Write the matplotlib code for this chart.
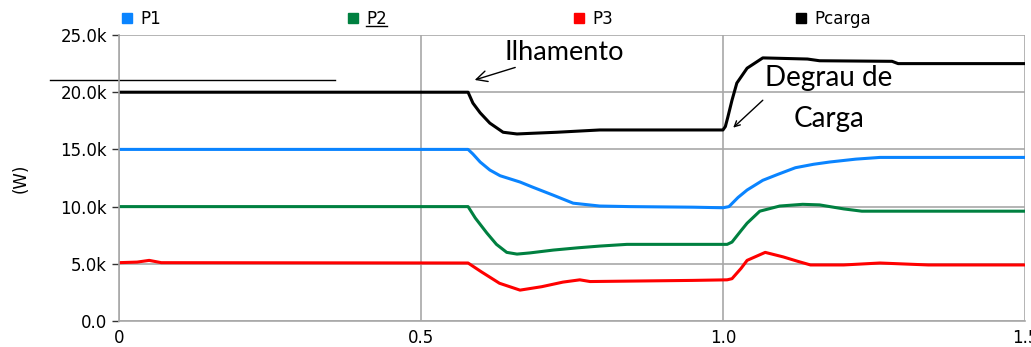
import matplotlib.pyplot as plt
from matplotlib.lines import Line2D

# time axis (s) and powers (kW)
t_p1 = [0.0, 0.578, 0.586, 0.598, 0.614, 0.631, 0.664, 0.685, 0.719, 0.752, 0.796, 0.846, 0.95, 1.0, 1.01,
        1.025, 1.04, 1.066, 1.09, 1.12, 1.15, 1.177, 1.22, 1.26, 1.5]
p1 = [15.0, 15.0, 14.6, 13.9, 13.2, 12.7, 12.15, 11.7, 11.0, 10.3, 10.05, 10.0, 9.95, 9.9, 10.0,
      10.8, 11.45, 12.3, 12.8, 13.4, 13.7, 13.9, 14.15, 14.3, 14.3]

t_p2 = [0.0, 0.578, 0.59, 0.609, 0.625, 0.642, 0.659, 0.68, 0.719, 0.76, 0.796, 0.841, 1.007, 1.015,
        1.03, 1.04, 1.061, 1.094, 1.132, 1.16, 1.177, 1.2, 1.23, 1.5]
p2 = [10.0, 10.0, 9.0, 7.7, 6.7, 6.0, 5.85, 5.95, 6.2, 6.4, 6.55, 6.7, 6.7, 6.9,
      7.9, 8.55, 9.6, 10.05, 10.2, 10.15, 10.0, 9.8, 9.6, 9.6]

t_p3 = [0.0, 0.03, 0.05, 0.07, 0.578, 0.6, 0.63, 0.664, 0.7, 0.735, 0.763, 0.78, 0.95, 1.007, 1.015,
        1.03, 1.04, 1.07, 1.1, 1.125, 1.145, 1.2, 1.26, 1.34, 1.5]
p3 = [5.1, 5.15, 5.3, 5.1, 5.07, 4.3, 3.3, 2.7, 3.0, 3.4, 3.6, 3.45, 3.55, 3.6, 3.7,
      4.6, 5.3, 6.0, 5.6, 5.2, 4.9, 4.9, 5.07, 4.9, 4.9]

t_pc = [0.0, 0.578, 0.586, 0.598, 0.614, 0.636, 0.659, 0.68, 0.725, 0.796, 1.0, 1.004, 1.008,
        1.015, 1.023, 1.04, 1.066, 1.14, 1.16, 1.28, 1.29, 1.5]
pc = [20.0, 20.0, 19.05, 18.2, 17.3, 16.5, 16.35, 16.4, 16.5, 16.7, 16.7, 17.0, 17.8,
      19.3, 20.8, 22.1, 23.0, 22.9, 22.75, 22.7, 22.5, 22.5]

names = ["P1", "P2", "P3", "Pcarga"]
colors = ["#0a84ff", "#008040", "#ff0000", "black"]
ts = [t_p1, t_p2, t_p3, t_pc]
ps = [p1, p2, p3, pc]

fig = plt.figure(figsize=(10.31, 3.47), dpi=100)
ax = fig.add_axes([0.1154, 0.0749, 0.8787, 0.8242])

for t, p, c in zip(ts, ps, colors):
    ax.plot(t, p, color=c, lw=2.2, solid_joinstyle="round")

ax.set_xlim(0, 1.5)
ax.set_ylim(0, 25)
ax.set_xticks([0, 0.5, 1.0, 1.5])
ax.set_xticklabels(["0", "0.5", "1.0", "1.5"], fontsize=12)
ax.set_yticks([0, 5, 10, 15, 20, 25])
ax.set_yticklabels(["0.0", "5.0k", "10.0k", "15.0k", "20.0k", "25.0k"], fontsize=12)
ax.tick_params(axis="x", length=0, pad=6)
ax.tick_params(axis="y", length=5, width=1, color="#333333")
ax.grid(True, color="#a8a8a8", lw=1.2)
for s in ["top", "right"]:
    ax.spines[s].set_visible(False)
for s in ["left", "bottom"]:
    ax.spines[s].set_color("#a8a8a8")
    ax.spines[s].set_linewidth(1.2)
ax.set_ylabel("(W)", fontsize=12, labelpad=22)

# stray line left of the legend
ax.plot([-0.114, 0.358], [21.07, 21.07], color="black", lw=1, clip_on=False)

# legend entries placed along the top (figure pixels)
leg_x = [127, 353, 579, 801]
for name, c, xp in zip(names, colors, leg_x):
    fig.add_artist(Line2D([xp / 1031], [1 - 18 / 347], marker="s", color=c, ms=7, ls="",
                          transform=fig.transFigure))
    txt = fig.text((xp + 13) / 1031, 1 - 19 / 347, name, fontsize=12, va="center", ha="left")
    if name == "P2":
        fig.canvas.draw()
        bb = txt.get_window_extent().transformed(fig.transFigure.inverted())
        fig.add_artist(Line2D([bb.x0, bb.x1], [bb.y0 + 0.006, bb.y0 + 0.006], color="black",
                              lw=1, transform=fig.transFigure))

ax.annotate("Ilhamento", xy=(0.589, 21.07), xytext=(0.639, 23.5), fontsize=19.5,
            family="Lato", va="center", ha="left",
            arrowprops=dict(arrowstyle="->", color="black", lw=1, shrinkA=0, shrinkB=0))
ax.annotate("", xy=(1.017, 16.9), xytext=(1.066, 19.3),
            arrowprops=dict(arrowstyle="->", color="black", lw=1, shrinkA=0, shrinkB=0))
ax.text(1.175, 19.45, "Degrau de\nCarga", fontsize=20, family="Lato", ha="center", va="center",
        linespacing=1.75)

fig.savefig("out.png", dpi=100)
